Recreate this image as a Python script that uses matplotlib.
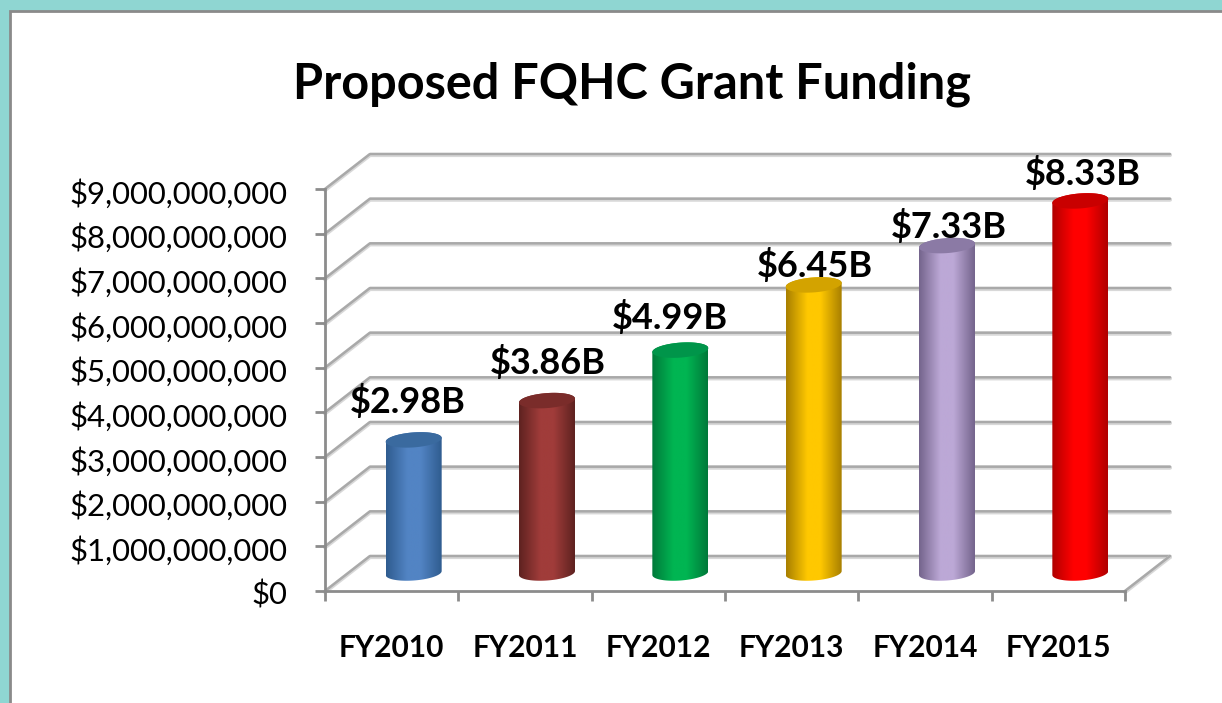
import numpy as np
import matplotlib
matplotlib.use("Agg")
import matplotlib.pyplot as plt
from matplotlib.colors import LinearSegmentedColormap
from matplotlib.patches import PathPatch, Polygon, Rectangle
from matplotlib.path import Path
from matplotlib.ticker import FuncFormatter
from matplotlib.transforms import ScaledTranslation

W, H = 1222, 703
LEFT, RIGHT, TOP, BOTTOM = 325, 1125, 189, 591   # plot box in pixels

years = ["FY2010", "FY2011", "FY2012", "FY2013", "FY2014", "FY2015"]
funding = [2.98e9, 3.86e9, 4.99e9, 6.45e9, 7.33e9, 8.33e9]
y_ticks = [0, 1e9, 2e9, 3e9, 4e9, 5e9, 6e9, 7e9, 8e9, 9e9]

# edge, centre, top-cap colours
bar_colors = [("#2F5C8F", "#5284C4", "#3A6A9F"),
              ("#5E2220", "#A03C3A", "#7A2C2A"),
              ("#00793A", "#00B552", "#00954A"),
              ("#A87F00", "#FFC800", "#D3A300"),
              ("#74648C", "#BCA8D6", "#8B7AA5"),
              ("#B00000", "#FF0000", "#C90000")]
# label shift from the bar top, in pixels
label_shift = [(-6, 38), (1, 38), (-10, 33), (1, 19), (2, 19), (2, 27)]

DEPTH_X, DEPTH_Y = 45, 35      # back wall offset, pixels
BAR_X, BAR_Y = 22, 18          # bar plane offset, pixels
BAR_W, BAR_H = 28, 7.5         # ellipse half axes, pixels
TILT = 0.07

plt.rcParams["font.family"] = ["Lato", "DejaVu Sans"]

fig = plt.figure(figsize=(W / 100, H / 100), dpi=100, facecolor="#8FD6D2")
fig.add_artist(Rectangle((10 / W, -0.01), 1, 1.01 - 11 / H, transform=fig.transFigure,
                         facecolor="white", edgecolor="#8A8A8A", lw=2, zorder=-1))

ax = fig.add_axes([LEFT / W, 1 - BOTTOM / H, (RIGHT - LEFT) / W, (BOTTOM - TOP) / H])
ax.patch.set_visible(False)
px = 6 / (RIGHT - LEFT)
py = 9e9 / (BOTTOM - TOP)


def grid_line(xs, ys, **kw):
    ax.plot(xs, ys, clip_on=False, solid_capstyle="round", zorder=1, **kw)


# back wall and side wall gridlines
for v in y_ticks:
    xs = [0, DEPTH_X * px, 6 + DEPTH_X * px]
    ys = [v, v + DEPTH_Y * py, v + DEPTH_Y * py]
    grid_line(xs, [y - 1.0 * py for y in ys], color="#D8D8D8", lw=3)
    grid_line(xs, ys, color="#A9A9A9", lw=1.8)
grid_line([6, 6 + DEPTH_X * px], [-1.0 * py, (DEPTH_Y - 1.0) * py], color="#D8D8D8", lw=3)
grid_line([6, 6 + DEPTH_X * px], [0, DEPTH_Y * py], color="#A9A9A9", lw=1.8)

# cylinders
gradient = np.linspace(0, 1, 128).reshape(1, -1)
t = np.linspace(0, np.pi, 60)
for i, (v, (edge, mid, cap)) in enumerate(zip(funding, bar_colors)):
    cx = i + 0.5 + BAR_X * px
    base = BAR_Y * py
    top = v + BAR_Y * py
    ex = BAR_W * np.cos(t)
    ey = BAR_H * np.sin(t) + TILT * BAR_W * np.cos(t)
    low = (-BAR_H * np.sin(t) + TILT * BAR_W * np.cos(t))[::-1]
    verts = np.column_stack([np.r_[cx + ex[::-1] * px, cx + ex * px],
                             np.r_[base + low * py, top + ey * py]])
    cmap = LinearSegmentedColormap.from_list(
        "cyl", [(0, edge), (0.38, mid), (0.62, mid), (1, edge)])
    im = ax.imshow(gradient, cmap=cmap, aspect="auto", zorder=3,
                   extent=[cx - BAR_W * px, cx + BAR_W * px, base - BAR_H * 2 * py, top + BAR_H * 2 * py],
                   interpolation="bilinear")
    clip = PathPatch(Path(np.r_[verts, verts[:1]]), transform=ax.transData, fc="none", ec="none")
    ax.add_patch(clip)
    im.set_clip_path(clip)
    # top cap
    cap_verts = np.column_stack([np.r_[cx + ex[::-1] * px, cx + ex * px],
                                 np.r_[top + low * py, top + ey * py]])
    ax.add_patch(Polygon(cap_verts, closed=True, fc=cap, ec="none", zorder=4, clip_on=False))
    ax.annotate(f"${v / 1e9:.2f}B", (cx, top), xytext=label_shift[i], textcoords="offset pixels",
                ha="center", va="center", fontsize=26, fontweight="bold", color="black",
                zorder=5, annotation_clip=False)

ax.set_xlim(0, 6)
ax.set_ylim(0, 9e9)

# axes, ticks
for s in ("top", "right"):
    ax.spines[s].set_visible(False)
for s in ("left", "bottom"):
    ax.spines[s].set_color("#8C8C8C")
    ax.spines[s].set_linewidth(2)
    ax.spines[s].set_zorder(2)
ax.set_yticks(y_ticks)
ax.yaxis.set_major_formatter(FuncFormatter(lambda v, _: f"${v:,.0f}"))
ax.set_xticks(range(7))
ax.set_xticklabels([])
ax.set_xticks(np.arange(6) + 0.5, labels=years, minor=True)
ax.tick_params(axis="both", which="major", color="#8C8C8C", width=2, length=7)
ax.tick_params(axis="y", labelsize=22.4, pad=20, labelcolor="black")
ax.tick_params(axis="x", which="minor", length=0, pad=31, labelsize=21.5)
for lab in ax.get_xticklabels(minor=True):
    lab.set_fontweight("bold")
for lab in ax.get_yticklabels():
    lab.set_transform(lab.get_transform() + ScaledTranslation(0, -2 / 100, fig.dpi_scale_trans))

fig.text(632 / W, 1 - 84 / H, "Proposed FQHC Grant Funding", ha="center", va="center",
         fontsize=35, fontweight="bold", color="black")

fig.savefig("out.png", dpi=100, facecolor=fig.get_facecolor())
